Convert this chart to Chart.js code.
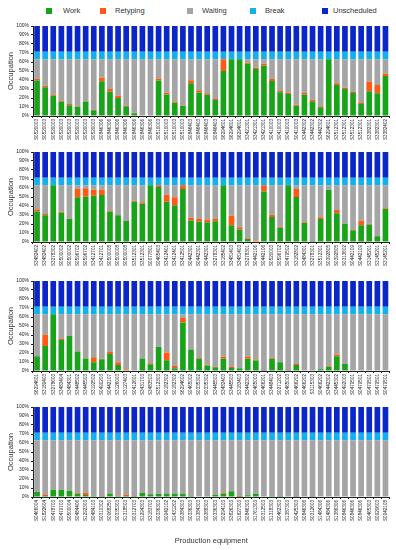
<!DOCTYPE html>
<html>
<head>
<meta charset="utf-8">
<script src="https://cdn.jsdelivr.net/npm/chart.js@4.4.0/dist/chart.umd.min.js"></script>
<style>
    body {
        margin: 0;
        width: 396px;
        height: 550px;
        position: relative;
        overflow: hidden;
        background: #fff;
        font-family: "Liberation Sans", Arial, sans-serif;
    }
    canvas {
        position: absolute;
        left: 0;
    }
    .swatch {
        position: absolute;
        top: 8px;
        width: 6px;
        height: 6px;
    }
    .legend-text {
        position: absolute;
        top: 6px;
        font-size: 7.5px;
        line-height: 9px;
        color: #333;
    }
</style>
</head>
<body>
<div class="swatch" style="left:46px;background:#19a319"></div>
<div class="legend-text" style="left:63px">Work</div>
<div class="swatch" style="left:100px;background:#ff5a14"></div>
<div class="legend-text" style="left:115px">Retyping</div>
<div class="swatch" style="left:187px;background:#a5a5a5"></div>
<div class="legend-text" style="left:202px">Waiting</div>
<div class="swatch" style="left:250px;background:#12b0f0"></div>
<div class="legend-text" style="left:265px">Break</div>
<div class="swatch" style="left:322px;background:#0a26c6"></div>
<div class="legend-text" style="left:333px">Unscheduled</div>

<script>
// Equipment ids per panel
const labels1 = ["S0520003", "S0520003", "S0520003", "S0520003", "S0520003", "S0520003", "S0520003", "S0520003",
    "S0846306", "S0846306", "S0846306", "S0846306", "S0846306", "S0846306", "S0846306",
    "S0510003", "S0510003", "S0510003", "S0510003", "S0846403", "S0846403", "S0846403", "S0846403",
    "S6294601", "S6294601", "S6294601", "S3421301", "S3421301", "S3421301",
    "S0410003", "S0410003", "S0410003", "S0410003", "S3442302", "S3442302", "S3442302", "S6294601",
    "S3512301", "S3512301", "S3512301", "S3512301", "S3382301", "S3382301", "S3382402"];
const labels2 = ["S3482402", "S3482402", "S3278302", "S0500002", "S0500002", "S0596702", "S0596702", "S3412701",
    "S3412701", "S0500008", "S0500008", "S0500008", "S3512301", "S3512301", "S0077801", "S0465403",
    "S3412401", "S3412401", "S3412501", "S0442301", "S0442301", "S0442301", "S3278301", "S3185402",
    "S3481403", "S3481403", "S3278301", "S0442106", "S0442106", "S0520003", "S0596702", "S0479502",
    "S3182802", "S3484301", "S3278301", "S3512301", "S0392805", "S0392805", "S0313602", "S0442109",
    "S0442109", "S3145201", "S3145201", "S3145201"];
const labels3 = ["S6294601", "S3189403", "S3278603", "S3483404", "S3484301", "S3448502", "S3445503", "S3192502",
    "S0490203", "S0442107", "S3126003", "S3127403", "S0412601", "S3431703", "S3483503", "S3512303",
    "S0182302", "S0182302", "S6294602", "S0465002", "S0335302", "S0335302", "S3445503", "S3482403",
    "S3445503", "S3183403", "S3442302", "S0465003", "S0466201", "S3448403", "S0271202", "S0465003",
    "S0466202", "S0466202", "S3115303", "S0466202", "S3442302", "S3445302", "S0492003", "S0479501",
    "S0479501", "S0479501", "S0479501", "S0479501"];
const labels4 = ["S0466004", "S1822604", "S0478703", "S0479703", "S0500004", "S0484406", "S1292303", "S0484103",
    "S0310302", "S0068250", "S0335303", "S1318503", "S0312703", "S1294303", "S3183703", "S0336303",
    "S0942102", "S1431202", "S0384303", "S0336303", "S1384303", "S0388303", "S0336303", "S0294103",
    "S3826303", "S1627303", "S0846303", "S1761303", "S0312503", "S1318303", "S0462303", "S1387303",
    "S0425303", "S0846306", "S0312603", "S1484306", "S1484306", "S1386306", "S0846306", "S0846306",
    "S0846306", "S0465303", "S0920603", "S0942108"];

// Occupation shares (%)
const work1 = [39.5, 32, 22.5, 16, 12, 10.3, 16, 6.5, 38.5, 27, 20, 10.7, 3, 0.5, 0.5, 39.5, 24, 14.8, 11, 36.3,
    26, 23.7, 17.8, 50, 63, 63, 58, 52.2, 56, 39, 26.3, 24.4, 11.5, 23.7, 16.3, 9.6, 63, 34.4, 30, 25.6,
    13.3, 27.4, 25.2, 44.4];
const retyping1 = [2, 1.5, 1.5, 1.3, 1.3, 0.4, 0.5, 0.4, 4, 3, 2.5, 1, 0.5, 0, 0, 2.2, 1.7, 1.4, 0.8, 3.3,
    2.5, 1.5, 1.1, 13, 0, 0, 1.5, 1.5, 2, 2, 1.5, 1.5, 1, 1.9, 1.8, 1.1, 0, 1.9, 1.5, 1.1,
    1.1, 10.7, 9.2, 2.6];
const waiting1 = [21.5, 29.5, 39, 45.7, 49.7, 52.3, 46.5, 56.1, 20.5, 33, 40.5, 51.3, 59.5, 62.5, 62.5, 21.3, 37.3, 46.8, 51.2, 23.4,
    34.5, 37.8, 44.1, 0, 0, 0, 3.5, 9.3, 5, 22, 35.2, 37.1, 50.5, 37.4, 44.9, 52.3, 0, 26.7, 31.5, 36.3,
    48.6, 24.9, 28.6, 16];

const work2 = [34, 29.6, 63, 32.6, 25.9, 49.6, 50.4, 51.5, 52.2, 34, 29.6, 23.3, 44.8, 42.6, 63, 61, 44.8, 40.7, 59, 24,
    22.5, 22, 23, 63, 18.5, 14, 3.3, 0.5, 56, 27.8, 15.9, 63, 50, 21, 0.3, 25.6, 58, 31.9, 20.4, 13,
    18.5, 19.3, 6.3, 36.7];
const retyping2 = [2.5, 1.5, 0, 1, 0.3, 9.3, 9.2, 6.6, 5.9, 1, 0.3, 0, 1.1, 1.5, 0, 2, 7.8, 8.9, 4, 3,
    3, 3, 2.5, 0, 10.8, 2.5, 1, 1, 7, 2.6, 1.1, 0, 8.9, 1, 0, 1.8, 0, 3.7, 0, 1,
    5.2, 1.1, 0.3, 0.7];
const waiting2 = [26.5, 31.9, 0, 29.4, 36.8, 4.1, 3.4, 4.9, 4.9, 28, 33.1, 39.7, 17.1, 18.9, 0, 0, 10.4, 13.4, 0, 36,
    37.5, 38, 37.5, 0, 33.7, 46.5, 58.7, 61.5, 0, 32.6, 46, 0, 4.1, 41, 62.7, 35.6, 5, 27.4, 42.6, 49,
    39.3, 42.6, 56.4, 25.6];

const work3 = [16.5, 27.7, 63, 34.5, 39.3, 21.7, 13.9, 9.7, 13, 19, 6.7, 0.5, 0, 13.9, 7.5, 27, 12, 3, 53.9, 24,
    13.5, 6, 4.1, 13.5, 3.4, 3, 13.5, 11.6, 0.3, 13.5, 9.7, 1, 6.7, 0, 0, 2, 4.9, 16.5, 7.9, 0,
    0, 0, 0, 0];
const retyping3 = [0, 12.7, 0, 1, 0, 0.3, 0, 5.7, 0.5, 2, 3, 1.3, 0, 0, 1, 0, 8.6, 2.6, 4.9, 0,
    1, 1.1, 1, 2.2, 1, 0, 2.6, 1.1, 0, 1.1, 0, 0, 1.1, 0, 0, 0, 1.1, 1.9, 0, 0,
    0, 0, 0, 0];
const waiting3 = [46.5, 22.6, 0, 27.5, 23.7, 41, 49.1, 47.6, 49.5, 42, 53.3, 61.2, 63, 49.1, 54.5, 36, 42.4, 57.4, 4.2, 39,
    48.5, 55.9, 57.9, 47.3, 58.6, 60, 46.9, 50.3, 62.7, 48.4, 53.3, 62, 55.2, 63, 63, 61, 57, 44.6, 55.1, 63,
    63, 63, 63, 63];

const work4 = [5.9, 1.1, 7.8, 7.8, 7, 4, 2.2, 1.5, 0.3, 4, 1.1, 1.1, 0.3, 4.8, 3, 3.7, 3.7, 3.7, 3.7, 1.5,
    0.5, 0.7, 2.6, 4, 6.3, 0.3, 1.9, 3.7, 0, 1.5, 0.4, 0, 0.4, 0, 0.4, 0, 0, 0, 0, 0,
    0, 0, 0, 0];
const retyping4 = [0, 1, 0, 0, 0, 1, 2.6, 0, 0, 0, 0.7, 1.5, 0, 0, 0, 0, 0, 0, 0, 0,
    0, 0, 0, 1.1, 0, 0.7, 0, 0, 0, 0, 0, 0, 0, 0, 0, 0, 0, 0, 0, 0,
    0, 0, 0, 0];
const waiting4 = [57.1, 60.9, 55.2, 55.2, 56, 58, 58.2, 61.5, 62.7, 59, 61.2, 60.4, 62.7, 58.2, 60, 59.3, 59.3, 59.3, 59.3, 61.5,
    62.5, 62.3, 60.4, 57.9, 56.7, 62, 61.1, 59.3, 63, 61.5, 62.6, 63, 62.6, 63, 62.6, 63, 63, 63, 63, 63,
    63, 63, 63, 63];

// break and unscheduled time are the same for every machine
const breakShare = [8.5, 8.5, 8.5, 8.5, 8.5, 8.5, 8.5, 8.5, 8.5, 8.5, 8.5, 8.5, 8.5, 8.5, 8.5, 8.5, 8.5, 8.5, 8.5, 8.5, 8.5, 8.5,
    8.5, 8.5, 8.5, 8.5, 8.5, 8.5, 8.5, 8.5, 8.5, 8.5, 8.5, 8.5, 8.5, 8.5, 8.5, 8.5, 8.5, 8.5, 8.5, 8.5, 8.5, 8.5];
const unscheduled = [28.5, 28.5, 28.5, 28.5, 28.5, 28.5, 28.5, 28.5, 28.5, 28.5, 28.5, 28.5, 28.5, 28.5, 28.5, 28.5, 28.5, 28.5, 28.5, 28.5, 28.5, 28.5,
    28.5, 28.5, 28.5, 28.5, 28.5, 28.5, 28.5, 28.5, 28.5, 28.5, 28.5, 28.5, 28.5, 28.5, 28.5, 28.5, 28.5, 28.5, 28.5, 28.5, 28.5, 28.5];

const colors = {
    work: "#19a319",
    retyping: "#ff5a14",
    waiting: "#a5a5a5",
    break: "#12b0f0",
    unscheduled: "#0a26c6",
};

const panelTops = [26, 152, 281, 407];
const plotHeight = 90;
const padTop = 6;

function makePanel(idx, labels, work, retyping, waiting, isLast) {
    const axisHeight = isLast ? 50 : 26;
    const canvas = document.createElement("canvas");
    canvas.width = 396;
    canvas.height = padTop + plotHeight + axisHeight;
    canvas.style.top = (panelTops[idx] - padTop) + "px";
    document.body.appendChild(canvas);

    const barOpts = { barPercentage: 0.7, categoryPercentage: 1.0, borderWidth: 0 };

    new Chart(canvas.getContext("2d"), {
        type: "bar",
        data: {
            labels: labels,
            datasets: [
                { label: "Work", data: work, backgroundColor: colors.work, ...barOpts },
                { label: "Retyping", data: retyping, backgroundColor: colors.retyping, ...barOpts },
                { label: "Waiting", data: waiting, backgroundColor: colors.waiting, ...barOpts },
                { label: "Break", data: breakShare, backgroundColor: colors.break, ...barOpts },
                { label: "Unscheduled", data: unscheduled, backgroundColor: colors.unscheduled, ...barOpts },
            ],
        },
        options: {
            responsive: false,
            animation: false,
            layout: { padding: { top: padTop, left: 3, right: 6.5, bottom: 0 } },
            plugins: {
                legend: { display: false },
                tooltip: { enabled: false },
            },
            scales: {
                x: {
                    stacked: true,
                    ticks: {
                        autoSkip: false,
                        maxRotation: 90,
                        minRotation: 90,
                        padding: 1,
                        color: "#222",
                        font: { size: 4.6, family: "Liberation Sans" },
                    },
                    grid: { display: true, drawOnChartArea: false, tickLength: 2, color: "#222" },
                    border: { color: "#222", width: 1 },
                    title: {
                        display: isLast,
                        text: "Production equipment",
                        color: "#333",
                        font: { size: 7.5, family: "Liberation Sans" },
                        padding: { top: 0, bottom: 2 },
                    },
                    afterFit: (scale) => {
                        scale.height = axisHeight;
                    },
                },
                y: {
                    stacked: true,
                    min: 0,
                    max: 100,
                    ticks: {
                        stepSize: 10,
                        padding: 2,
                        color: "#222",
                        font: { size: 5, family: "Liberation Sans" },
                        callback: (v) => v + "%",
                    },
                    grid: { display: true, drawOnChartArea: false, tickLength: 2, color: "#222" },
                    border: { color: "#222", width: 1 },
                    title: {
                        display: true,
                        text: "Occupation",
                        color: "#333",
                        font: { size: 7.5, family: "Liberation Sans" },
                        padding: { top: 3, bottom: 0 },
                    },
                    afterFit: (scale) => {
                        scale.width = 30;
                    },
                },
            },
        },
    });
}

makePanel(0, labels1, work1, retyping1, waiting1, false);
makePanel(1, labels2, work2, retyping2, waiting2, false);
makePanel(2, labels3, work3, retyping3, waiting3, false);
makePanel(3, labels4, work4, retyping4, waiting4, true);
</script>
</body>
</html>
